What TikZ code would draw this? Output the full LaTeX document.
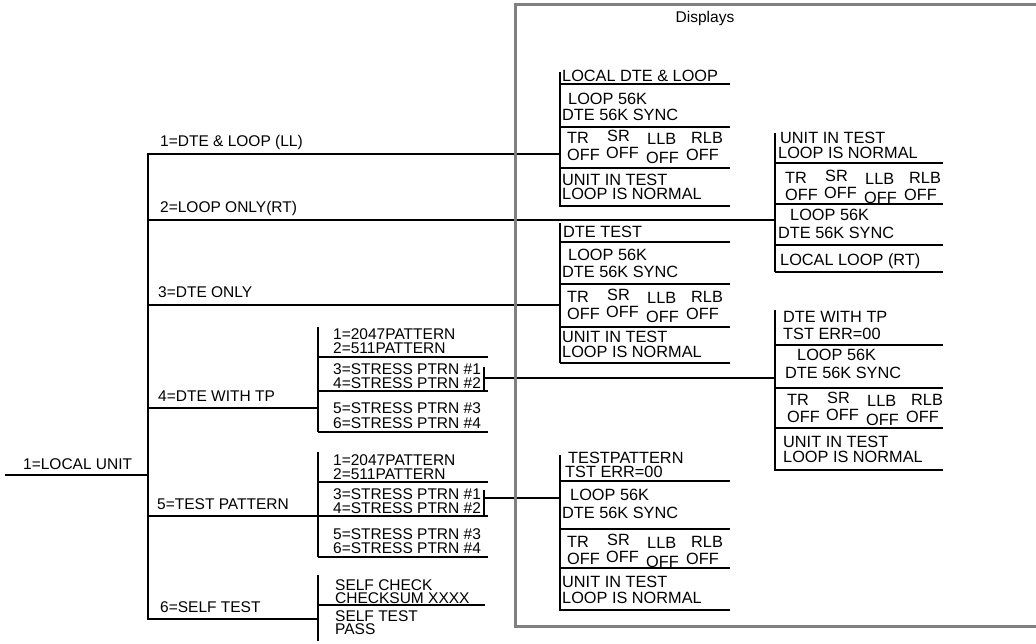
\documentclass[tikz,border=0pt]{standalone}
\usepackage{fontspec}
\setmainfont{Liberation Sans}
\usetikzlibrary{positioning}
\definecolor{framegray}{RGB}{128,128,128}
\newcommand\menufont{\fontsize{15.5}{14}\selectfont}
\newcommand\dispfont{\fontsize{16.3}{14}\selectfont}
% TR SR LLB RLB / OFF OFF OFF OFF row of a display
\newcommand\statusrow[3]{%
  \foreach \lab/\dx/\dy [count=\i] in {TR/7/0,SR/47/-2,LLB/87/1,RLB/131/0}
    \node[dtxt] (#1t\i) at (#2+\dx,#3+\dy) {\lab};
  \foreach \dx/\dy [count=\i] in {7/0,46/-2,86/3,126/0}
    \node[dtxt] (#1o\i) at (#2+\dx,#3+17+\dy) {OFF};
}
\tikzset{
  txt/.style={anchor=base west, inner sep=0pt, font=\menufont},
  dtxt/.style={txt, font=\dispfont},
  tree/.style={line width=2pt},
  bar/.style={line width=2.6pt},
  rule/.style={line width=1.8pt},
  frame/.style={draw=framegray, line width=3pt}
}

\begin{document}
\begin{tikzpicture}[x=1pt,y=-1pt]
\useasboundingbox (0,0) rectangle (1036,643);
% Menu tree (left)
\coordinate (root) at (5,475);
\coordinate (trunk) at (148,475);
\coordinate (ttop) at (148,153);
\coordinate (tbot) at (148,620);
\node[txt] (unit) at (23,469) {1=LOCAL UNIT};
\draw[tree] (root) -- (trunk);
\draw[bar] (ttop) -- (tbot);
\node[txt] (m1) at (160,146) {1=DTE \& LOOP (LL)};
\node[txt] (m2) at (160,212) {2=LOOP ONLY(RT)};
\node[txt] (m3) at (158,297) {3=DTE ONLY};
\node[txt] (m4) at (158,401) {4=DTE WITH TP};
\node[txt] (m5) at (157,509) {5=TEST PATTERN};
\node[txt] (m6) at (160,612) {6=SELF TEST};
\foreach \y/\n in {154/1,220/2,305/3,408/4,516/5,619/6}
  \coordinate (b\n) at (148,\y);
% Pattern lists
\coordinate (pa) at (318,408);
\draw[bar] (318,327) -- (318,432);
\foreach \y in {357,391,432} \draw[rule] (318,\y) -- ++(170,0);
\node[txt] (pa1) at (333,339) {1=2047PATTERN};
\node[txt] (pa2) at (333,353) {2=511PATTERN};
\node[txt] (pa3) at (333,374) {3=STRESS PTRN \#1};
\node[txt] (pa4) at (333,388) {4=STRESS PTRN \#2};
\node[txt] (pa5) at (333,413) {5=STRESS PTRN \#3};
\node[txt] (pa6) at (333,428) {6=STRESS PTRN \#4};
\draw[bar] (484,367) -- (484,390);
\coordinate (pax) at (484,378);
\coordinate (pb) at (318,516);
\draw[bar] (318,452) -- (318,557);
\foreach \y in {482,516,557} \draw[rule] (318,\y) -- ++(170,0);
\node[txt] (pb1) at (333,465) {1=2047PATTERN};
\node[txt] (pb2) at (333,479) {2=511PATTERN};
\node[txt] (pb3) at (333,499) {3=STRESS PTRN \#1};
\node[txt] (pb4) at (333,513) {4=STRESS PTRN \#2};
\node[txt] (pb5) at (333,539) {5=STRESS PTRN \#3};
\node[txt] (pb6) at (333,553) {6=STRESS PTRN \#4};
\draw[bar] (484,490) -- (484,515);
\coordinate (pbx) at (484,498);
\coordinate (pc) at (318,619);
\draw[bar] (318,575) -- (318,641);
\draw[rule] (318,605) -- (485,605);
\node[txt] (pc1) at (335,590) {SELF CHECK};
\node[txt] (pc2) at (335,603) {CHECKSUM XXXX};
\node[txt] (pc3) at (335,621) {SELF TEST};
\node[txt] (pc4) at (335,634) {PASS};
% Display: local DTE & loop
\coordinate (d1) at (560,154);
\draw[bar] (560,72) -- (560,207);
\foreach \y in {84,127,168,206} \draw[rule] (560,\y) -- ++(170,0);
\node[dtxt] (d1a) at (562,81) {LOCAL DTE \& LOOP};
\node[dtxt] (d1b) at (568,104) {LOOP 56K};
\node[dtxt] (d1c) at (562,120) {DTE 56K SYNC};
\statusrow{d1}{560}{143}
\node[dtxt] (d1d) at (562,185) {UNIT IN TEST};
\node[dtxt] (d1e) at (562,199) {LOOP IS NORMAL};
% Display: DTE test
\coordinate (d2) at (560,305);
\draw[bar] (560,223) -- (560,363);
\foreach \y in {242,284,327,363} \draw[rule] (560,\y) -- ++(170,0);
\node[dtxt] (d2a) at (563,237) {DTE TEST};
\node[dtxt] (d2b) at (568,260) {LOOP 56K};
\node[dtxt] (d2c) at (562,277) {DTE 56K SYNC};
\statusrow{d2}{560}{302}
\node[dtxt] (d2d) at (562,342) {UNIT IN TEST};
\node[dtxt] (d2e) at (562,357) {LOOP IS NORMAL};
% Display: loop only
\coordinate (d3) at (775,220);
\draw[bar] (775,133) -- (775,272);
\foreach \y in {163,204,245,272} \draw[rule] (775,\y) -- ++(168,0);
\node[dtxt] (d3a) at (780,143) {UNIT IN TEST};
\node[dtxt] (d3b) at (778,158) {LOOP IS NORMAL};
\statusrow{d3}{778}{183}
\node[dtxt] (d3c) at (790,220) {LOOP 56K};
\node[dtxt] (d3d) at (778,238) {DTE 56K SYNC};
\node[dtxt] (d3e) at (780,265) {LOCAL LOOP (RT)};
% Display: DTE with TP
\coordinate (d4) at (775,378);
\draw[bar] (775,310) -- (775,471);
\foreach \y in {345,388,428,470} \draw[rule] (775,\y) -- ++(168,0);
\node[dtxt] (d4a) at (783,322) {DTE WITH TP};
\node[dtxt] (d4b) at (783,339) {TST ERR=00};
\node[dtxt] (d4c) at (797,360) {LOOP 56K};
\node[dtxt] (d4d) at (785,378) {DTE 56K SYNC};
\statusrow{d4}{780}{405}
\node[dtxt] (d4e) at (783,447) {UNIT IN TEST};
\node[dtxt] (d4f) at (783,462) {LOOP IS NORMAL};
% Display: test pattern
\coordinate (d5) at (560,498);
\draw[bar] (560,455) -- (560,611);
\foreach \y in {481,529,568,610} \draw[rule] (560,\y) -- ++(170,0);
\node[dtxt] (d5a) at (568,463) {TESTPATTERN};
\node[dtxt] (d5b) at (565,477) {TST ERR=00};
\node[dtxt] (d5c) at (570,500) {LOOP 56K};
\node[dtxt] (d5d) at (562,518) {DTE 56K SYNC};
\statusrow{d5}{560}{547}
\node[dtxt] (d5e) at (562,587) {UNIT IN TEST};
\node[dtxt] (d5f) at (562,603) {LOOP IS NORMAL};
% Connectors
\draw[tree] (b1) -- (d1);
\draw[tree] (b2) -- (d3);
\draw[tree] (b3) -- (d2);
\draw[tree] (b4) -- (pa);
\draw[tree] (b5) -- (pb);
\draw[tree] (b6) -- (pc);
\draw[tree] (pax) -- (d4);
\draw[tree] (pbx) -- (d5);
% Displays frame
\draw[frame] (1036,4) -- (515,4) -- (515,626) -- (1036,626);
\node[txt, anchor=base] (disp) at (705,22) {Displays};
\end{tikzpicture}
\end{document}
